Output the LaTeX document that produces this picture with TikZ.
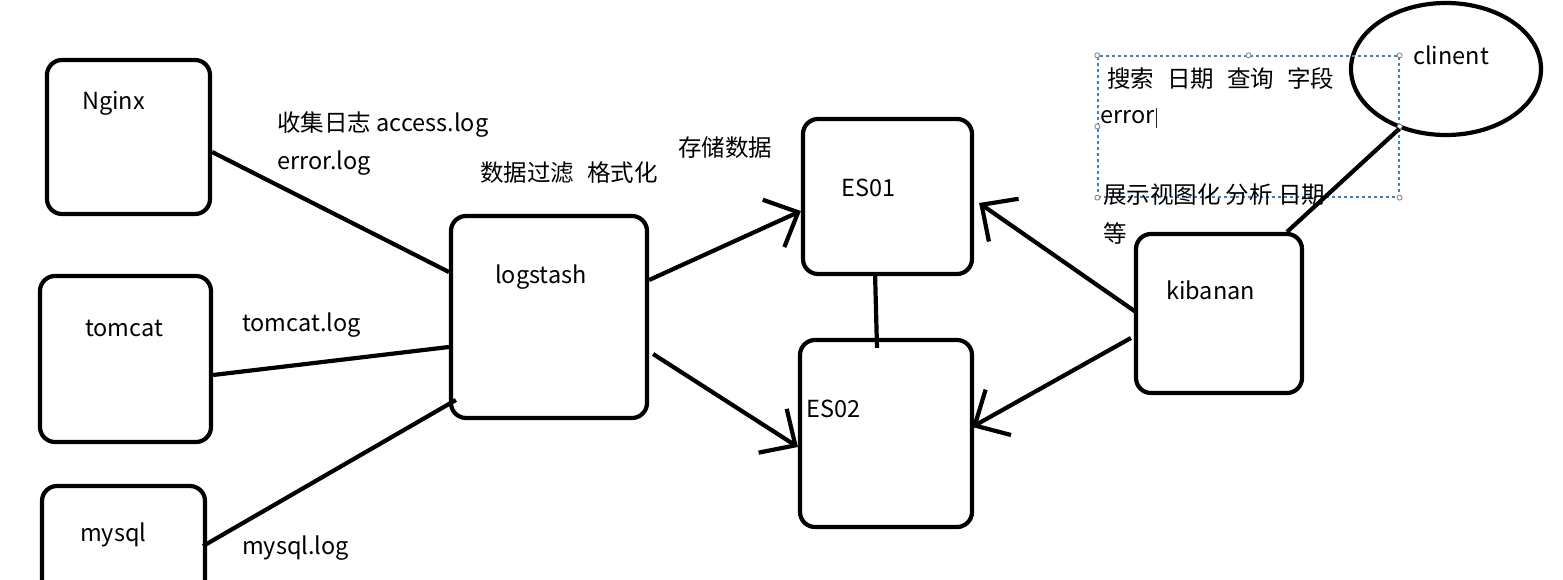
\documentclass[tikz,border=0pt]{standalone}
\usepackage{fontspec}
\setmainfont{Noto Sans CJK SC}
\usetikzlibrary{arrows.meta,shapes.geometric}
\begin{document}
\begin{tikzpicture}[x=1pt,y=-1pt,
  box/.style={draw=black,line width=4.2pt,rounded corners=15pt,inner sep=0pt,fill=none},
  lbl/.style={anchor=west,inner sep=0pt,text=black,font=\fontsize{23.5}{27}\selectfont},
  conn/.style={draw=black,line width=4.2pt},
  arr/.style={conn,-{Straight Barb[length=27pt,width=52pt]}},
  handle/.style={draw=gray,fill=white,line width=0.8pt,circle,inner sep=0pt,minimum size=5pt}
]
\clip (0,0) rectangle (1563,580);
\fill[white] (0,0) rectangle (1563,580);

% boxes
\node[box,minimum width=163pt,minimum height=154pt] (nginx) at (128.5,137) {};
\node[box,minimum width=171pt,minimum height=166pt] (tomcat) at (125.5,359) {};
\node[box,minimum width=163pt,minimum height=134pt] (mysql) at (123.5,553) {};
\node[box,minimum width=196pt,minimum height=202pt] (ls) at (549,317) {};
\node[box,minimum width=169pt,minimum height=155pt] (es1) at (887.5,196.5) {};
\node[box,minimum width=172pt,minimum height=187pt] (es2) at (886,433.5) {};
\node[box,minimum width=166pt,minimum height=159pt] (kib) at (1219,313.5) {};
\node[draw=black,line width=4.2pt,ellipse,inner sep=0pt,minimum width=190pt,minimum height=132pt] (client) at (1446,69) {};

% labels in boxes
\node[lbl] (tnginx) at (82,103) {Nginx};
\node[lbl] (ttomcat) at (85,328) {tomcat};
\node[lbl] (tmysql) at (80,535) {mysql};
\node[lbl] (tls) at (495,277) {logstash};
\node[lbl] (tes1) at (841,188) {ES01};
\node[lbl] (tes2) at (806,409) {ES02};
\node[lbl] (tkib) at (1166,290) {kibanan};
\node[lbl] (tclient) at (1413,55) {clinent};

% free labels
\node[lbl] (t1) at (277,125) {收集日志 access.log};
\node[lbl] (t2) at (277,163) {error.log};
\node[lbl] (t3) at (480,173) {数据过滤\hspace{13pt}格式化};
\node[lbl] (t4) at (678,148) {存储数据};
\node[lbl] (t5) at (242,325) {tomcat.log};
\node[lbl] (t6) at (242,548) {mysql.log};

% selection text box
\node[draw={rgb,255:red,60;green,130;blue,195},dashed,line width=1.3pt,minimum width=301pt,minimum height=141pt,inner sep=0pt] (sel) at (1248.5,126.5) {};
\foreach \p in {sel.north west,sel.north,sel.north east,sel.west,sel.east,sel.south west,sel.south east}
  \node[handle] at (\p) {};
\node[lbl] (t7) at (1107,79) {搜索\hspace{13pt}日期\hspace{13pt}查询\hspace{13pt}字段};
\node[lbl] (t8) at (1100,117) {error};
\draw[black!85,line width=1.2pt] ([xshift=1.5pt,yshift=2pt]t8.north east) -- ([xshift=1.5pt,yshift=-4pt]t8.south east);
\node[lbl] (t9) at (1103,195) {展示视图化 分析 日期};
\node[lbl] (t10) at (1103,233) {等};

% connectors
\draw[conn] ([yshift=-15pt]nginx.east) -- ([yshift=45pt]ls.west);
\draw[conn] ([yshift=-16pt]tomcat.east) -- ([yshift=-30pt]ls.west);
\draw[conn] ([xshift=-4pt,yshift=7pt]mysql.east) -- ([xshift=7pt,yshift=-83pt]ls.west);
\draw[arr] ([yshift=37pt]ls.east) -- ([yshift=-14.5pt]es1.west);
\draw[arr] ([xshift=4pt,yshift=-37pt]ls.east) -- ([yshift=-13.5pt]es2.west);
\draw[conn] ([xshift=-12.5pt,yshift=4pt]es1.south) -- ([xshift=-9pt,yshift=-10pt]es2.north);
\draw[arr] ([xshift=2pt,yshift=1.5pt]kib.west) -- ([xshift=5pt,yshift=-6.5pt]es1.east);
\draw[arr] ([xshift=-3pt,yshift=-24.5pt]kib.west) -- ([xshift=-2pt,yshift=6.5pt]es2.east);
\draw[conn] ([xshift=68pt]kib.north) -- (client.232);
\end{tikzpicture}
\end{document}
